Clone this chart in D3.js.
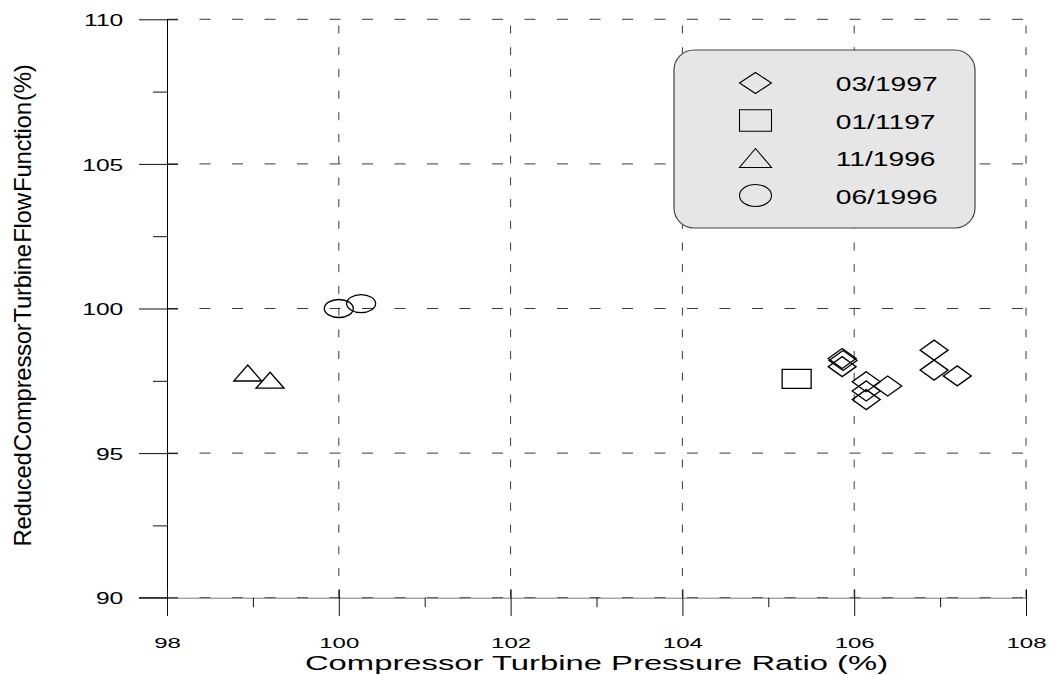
<!DOCTYPE html>
<html>
<head>
<meta charset="utf-8">
<script src="https://cdn.jsdelivr.net/npm/d3@7"></script>
<style>
  body { margin: 0; background: #fff; }
  text { font-family: "Liberation Sans", Arial, Helvetica, sans-serif; fill: #000; }
</style>
</head>
<body>
<svg id="chart" width="1052" height="675"></svg>
<script>
// Axis ticks
const xTicks = [98, 100, 102, 104, 106, 108];
const xMinor = [99, 101, 103, 105, 107];
const yTicks = [90, 95, 100, 105, 110];
const yMinor = [92.5, 97.5, 102.5, 107.5];

// Survey dates (legend order)
const seriesNames = ["03/1997", "01/1197", "11/1996", "06/1996"];

// Pressure ratio (%) and flow function (%) per survey
const pr0397 = [105.86, 105.87, 105.86, 106.14, 106.39, 106.14, 106.14, 106.93, 106.93, 107.20];
const ff0397 = [98.27, 98.20, 97.99, 97.47, 97.32, 97.15, 96.85, 98.56, 97.87, 97.67];
const pr0197 = [105.33];
const ff0197 = [97.57];
const pr1196 = [98.94, 99.20];
const ff1196 = [97.77, 97.52];
const pr0696 = [100.00, 100.26];
const ff0696 = [100.00, 100.17];

const svg = d3.select("#chart");

const x = d3.scaleLinear().domain([98, 108]).range([167, 1026]);
const y = d3.scaleLinear().domain([90, 110]).range([597.7, 19.3]);

// Marker outlines, sized in pixels
function markerPath(kind, w, h) {
  const p = d3.path();
  if (kind === "diamond") {
    p.moveTo(0, -h / 2); p.lineTo(w / 2, 0); p.lineTo(0, h / 2); p.lineTo(-w / 2, 0); p.closePath();
  } else if (kind === "square") {
    p.rect(-w / 2, -h / 2, w, h);
  } else if (kind === "triangle") {
    p.moveTo(0, -h / 2); p.lineTo(w / 2, h / 2); p.lineTo(-w / 2, h / 2); p.closePath();
  } else {
    // ellipse from four cubic quarter-arcs
    const k = 0.5523, rx = w / 2, ry = h / 2;
    p.moveTo(rx, 0);
    p.bezierCurveTo(rx, ry * k, rx * k, ry, 0, ry);
    p.bezierCurveTo(-rx * k, ry, -rx, ry * k, -rx, 0);
    p.bezierCurveTo(-rx, -ry * k, -rx * k, -ry, 0, -ry);
    p.bezierCurveTo(rx * k, -ry, rx, -ry * k, rx, 0);
    p.closePath();
  }
  return p.toString();
}

// Horizontally stretched label text
function stretched(parent, tx, ty, str, size, sx, anchor) {
  return parent.append("text")
    .attr("transform", `translate(${tx},${ty}) scale(${sx},1)`)
    .attr("text-anchor", anchor)
    .attr("font-size", size)
    .text(str);
}

// ---- Grid ----
const grid = svg.append("g").attr("stroke", "#3a3a3a").attr("stroke-width", 1).attr("fill", "none");
grid.selectAll("line.h").data(yTicks).join("line")
  .attr("x1", x(98)).attr("x2", x(108))
  .attr("y1", d => y(d)).attr("y2", d => y(d))
  .attr("stroke-dasharray", "11,21.5");
grid.selectAll("line.v").data(xTicks.slice(1)).join("line")
  .attr("x1", d => x(d)).attr("x2", d => x(d))
  .attr("y1", y(90)).attr("y2", y(110))
  .attr("stroke-dasharray", "8,13.7");

// ---- Y axis ----
const yAxis = svg.append("g").attr("transform", `translate(${x(98)},0)`)
  .call(d3.axisLeft(y).tickValues(yTicks).tickSizeInner(28).tickSizeOuter(0).tickFormat(d3.format("d")));
yAxis.select(".domain").attr("stroke", "#000");
yAxis.selectAll(".tick line").attr("x1", 11).attr("stroke", "#111");
yAxis.selectAll(".tick text").remove();
yAxis.selectAll(".tick").each(function (d) {
  stretched(d3.select(this), -43.7, 6.2, d3.format("d")(d), 17, 1.45, "end");
});
svg.append("g").attr("transform", `translate(${x(98)},0)`)
  .call(d3.axisLeft(y).tickValues(yMinor).tickSizeInner(14).tickSizeOuter(0).tickFormat(""))
  .call(g => g.select(".domain").remove())
  .selectAll(".tick line").attr("stroke", "#111");

// ---- X axis ----
const xAxis = svg.append("g").attr("transform", `translate(0,${y(90)})`)
  .call(d3.axisBottom(x).tickValues(xTicks).tickSizeInner(18.3).tickSizeOuter(0));
xAxis.select(".domain").attr("stroke", "#7a7a7a");
xAxis.selectAll(".tick line").attr("y1", -8.4).attr("stroke", "#111");
xAxis.selectAll(".tick text").remove();
xAxis.selectAll(".tick").each(function (d) {
  stretched(d3.select(this), 0, 50.5, d3.format("d")(d), 15.5, 1.55, "middle");
});
svg.append("g").attr("transform", `translate(0,${y(90)})`)
  .call(d3.axisBottom(x).tickValues(xMinor).tickSizeInner(9.5).tickSizeOuter(0).tickFormat(""))
  .call(g => g.select(".domain").remove())
  .selectAll(".tick line").attr("stroke", "#111");
// left stub of the 90 tick continues the baseline
svg.append("line").attr("x1", x(98) - 28).attr("x2", x(98))
  .attr("y1", y(90)).attr("y2", y(90)).attr("stroke", "#111");

// ---- Axis titles ----
stretched(svg, (x(98) + x(108)) / 2, 670, "Compressor Turbine Pressure Ratio (%)", 20.5, 1.6, "middle");
svg.append("text")
  .attr("transform", `translate(31,${(y(90) + y(110)) / 2 - 3}) rotate(-90)`)
  .attr("text-anchor", "middle")
  .attr("font-size", 24)
  .attr("word-spacing", "-5px")
  .attr("letter-spacing", "-0.3px")
  .text("Reduced Compressor Turbine Flow Function (%)");

// ---- Data markers ----
const series = [
  { kind: "diamond", w: 28, h: 20, px: pr0397, py: ff0397 },
  { kind: "square", w: 29, h: 19, px: pr0197, py: ff0197 },
  { kind: "triangle", w: 28, h: 16, px: pr1196, py: ff1196 },
  { kind: "ellipse", w: 29, h: 18, px: pr0696, py: ff0696 }
];
const marks = svg.append("g").attr("fill", "none").attr("stroke", "#000").attr("stroke-width", 1.3);
series.forEach(s => {
  marks.append("g").selectAll("path")
    .data(s.px.map((v, i) => [v, s.py[i]]))
    .join("path")
    .attr("transform", d => `translate(${x(d[0])},${y(d[1])})`)
    .attr("d", markerPath(s.kind, s.w, s.h));
});

// ---- Legend ----
const legend = svg.append("g").attr("transform", "translate(674,50)");
legend.append("rect")
  .attr("width", 301).attr("height", 178).attr("rx", 20).attr("ry", 20)
  .attr("fill", "#e6e6e6").attr("stroke", "#444").attr("stroke-width", 1.2);
const legendSizes = [[32, 21], [32, 21.5], [32, 19], [32, 22]];
seriesNames.forEach((name, i) => {
  const cy = 33 + i * 37.5;
  legend.append("path")
    .attr("transform", `translate(81.5,${cy})`)
    .attr("d", markerPath(series[i].kind, legendSizes[i][0], legendSizes[i][1]))
    .attr("fill", "none").attr("stroke", "#000").attr("stroke-width", 1.1);
  stretched(legend, 161.7, cy + 8.3, name, 20, 1.41, "start");
});
</script>
</body>
</html>
